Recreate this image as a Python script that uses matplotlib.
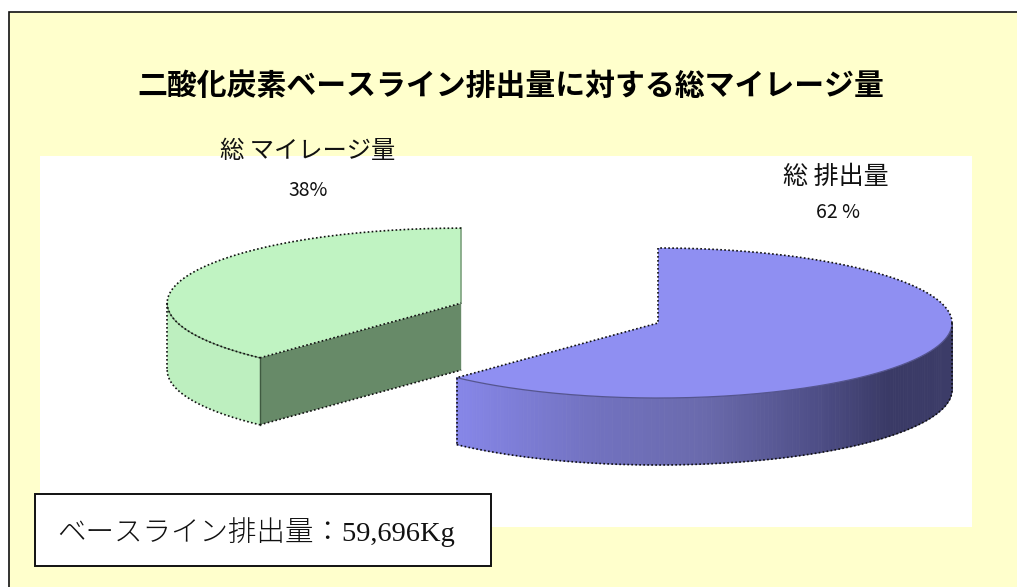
import matplotlib
matplotlib.use('Agg')
import matplotlib.pyplot as plt
from matplotlib.colors import LinearSegmentedColormap
from matplotlib.patches import Rectangle
import numpy as np

plt.rcParams['font.family'] = ['Noto Sans CJK JP', 'DejaVu Sans']

title = '二酸化炭素ベースライン排出量に対する総マイレージ量'
names = ['総 排出量', '総 マイレージ量']
shares = [62, 38]
share_labels = ['62 %', '38%']
note = 'ベースライン排出量：59,696Kg'

W, H = 1017, 587
# pie centre and radii in pixels, the pie axes is stretched to make the ellipse
cx, cy, rx, ry = 658, 323, 294, 75
depth = 67 / ry

fig = plt.figure(figsize=(W / 100, H / 100), dpi=100, facecolor='white')

bg = fig.add_axes([0, 0, 1, 1], zorder=0)
bg.set_xlim(0, W)
bg.set_ylim(H, 0)
bg.axis('off')
bg.add_patch(Rectangle((9, 12), W, H, facecolor='#FFFFCC', edgecolor='#111111', linewidth=1.2))
bg.add_patch(Rectangle((40, 156), 932, 371, facecolor='white', edgecolor='none'))
bg.add_patch(Rectangle((35, 494), 456, 72, facecolor='white', edgecolor='#111111', linewidth=1.4, zorder=3))

bg.text(511, 86, title, fontsize=21.5, fontweight='bold', ha='center', va='center', color='black')
bg.text(836, 177, names[0], fontsize=18, ha='center', va='center', color='#111111')
bg.text(838, 212, share_labels[0], fontsize=14, ha='center', va='center', color='#111111')
bg.text(308, 151, names[1], fontsize=17.5, ha='center', va='center', color='#111111')
bg.text(308, 190, share_labels[1], fontsize=14, ha='center', va='center', color='#111111')
bg.text(57, 532, note, fontsize=20.5, fontweight='light', ha='left', va='center', color='#111111', zorder=4,
        family=['Liberation Serif', 'Noto Sans CJK JP'])

ax = fig.add_axes([0, 0, 1, 1], zorder=1)
ax.patch.set_alpha(0)
wedges, _ = ax.pie(shares, explode=[0, 0.72], startangle=90, counterclock=False,
                   colors=['#8F8FF2', '#C0F3C2'], wedgeprops={'linewidth': 0, 'zorder': 5})
ax.set_aspect('auto')
ax.set_xlim(-cx / rx, (W - cx) / rx)
ax.set_ylim((cy - H) / ry, cy / ry)
ax.axis('off')

blue_side = LinearSegmentedColormap.from_list('blue_side', [
    (0.0, '#8686E8'), (0.27, '#7272C0'), (0.50, '#6A6AAC'), (0.72, '#4F4F88'),
    (0.87, '#3A3A66'), (1.0, '#3C3C68')])


def rim(wedge, a, b, n=160):
    t = np.radians(np.linspace(a, b, n))
    x0, y0 = wedge.center
    return x0 + wedge.r * np.cos(t), y0 + wedge.r * np.sin(t)


def dots(x, y, z=8):
    ax.plot(x, y, color='#111111', linestyle=(0, (1, 1.4)), linewidth=1.2, zorder=z)


blue, green = wedges

# blue wedge: rim from the cut to the right side, shaded along x
bx, by = rim(blue, blue.theta1, 0)
span = bx.max() - bx.min()
for i in range(len(bx) - 1):
    c = blue_side((bx[i] - bx.min()) / span)
    ax.fill([bx[i], bx[i + 1], bx[i + 1], bx[i]],
            [by[i], by[i + 1], by[i + 1] - depth, by[i] - depth],
            color=c, linewidth=0.6, zorder=4)

# green wedge: outer rim and the dark cut face
gx, gy = rim(green, -180, green.theta2)
ax.fill(np.r_[gx, gx[::-1]], np.r_[gy, gy[::-1] - depth], color='#BDEFBF', linewidth=0, zorder=2)
x0, y0 = green.center
ax.fill([gx[-1], x0, x0, gx[-1]], [gy[-1], y0, y0 - depth, gy[-1] - depth],
        color='#678A68', linewidth=0, zorder=3)

# edges
ax.plot(bx, by, color='#55558F', linewidth=0.9, zorder=7)
ax.plot(gx, gy, color='#6F8F70', linewidth=0.8, zorder=7)
ax.plot([gx[-1], gx[-1]], [gy[-1], gy[-1] - depth], color='#3F5A40', linewidth=1.0, zorder=7)
ax.plot([x0, x0], [y0 + green.r, y0], color='#7FA380', linewidth=1.2, zorder=7)

tx, ty = rim(blue, 0, blue.theta2)
dots(tx, ty)
dots([0, 0, bx[0]], [1, 0, by[0]])
dots(bx, by - depth)
dots([bx[0], bx[0]], [by[0], by[0] - depth])
dots([bx[-1], bx[-1]], [by[-1], by[-1] - depth])

ux, uy = rim(green, green.theta1, green.theta2)
dots(ux, uy)
dots([gx[-1], x0], [gy[-1], y0])
dots(gx, gy - depth)
dots([gx[-1], x0], [gy[-1] - depth, y0 - depth])
dots([gx[0], gx[0]], [gy[0], gy[0] - depth])

plt.savefig('out.png', dpi=100)
